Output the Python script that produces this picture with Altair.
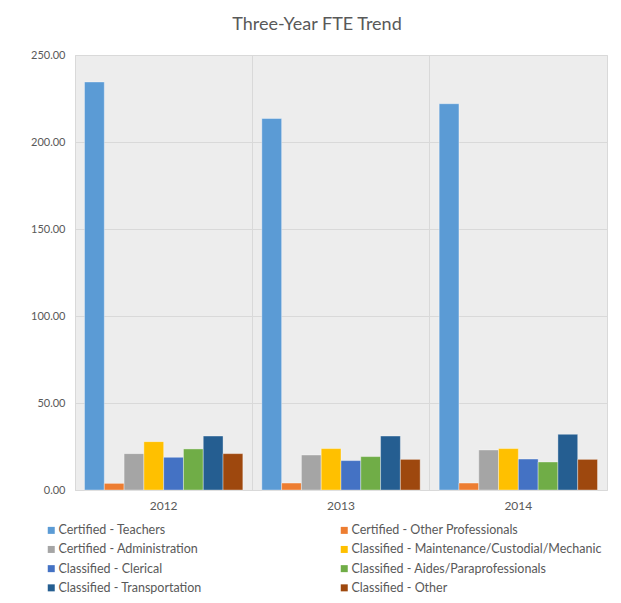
import altair as alt
import pandas as pd

years = ["2012", "2013", "2014"]
categories = [
    "Certified - Teachers",
    "Certified - Other Professionals",
    "Certified - Administration",
    "Classified - Maintenance/Custodial/Mechanic",
    "Classified - Clerical",
    "Classified - Aides/Paraprofessionals",
    "Classified - Transportation",
    "Classified - Other",
]
colors = ["#5B9BD5", "#ED7D31", "#A5A5A5", "#FFC000", "#4472C4", "#70AD47", "#255E91", "#9E480E"]

teachers = [234.5, 213.5, 222.0]
other_prof = [3.8, 4.0, 4.0]
administration = [20.9, 20.1, 23.0]
maintenance = [27.8, 23.8, 23.8]
clerical = [18.8, 16.9, 17.8]
aides = [23.6, 19.2, 16.1]
transportation = [31.0, 31.0, 32.0]
classified_other = [20.9, 17.6, 17.6]

series = [teachers, other_prof, administration, maintenance, clerical, aides,
          transportation, classified_other]

# legend fills column by column: left column first, then right column
legend_order = categories[0::2] + categories[1::2]

rows = []
for cat, vals in zip(categories, series):
    for yr, v in zip(years, vals):
        rows.append({"Year": yr, "Category": cat, "FTE": v})
df = pd.DataFrame(rows)

FONT = "Lato"
TXT = "#595959"
GRID = "#d9d9d9"

chart = alt.Chart(df).mark_bar(stroke="white", strokeWidth=0.6, strokeOpacity=0.6).encode(
    x=alt.X(
        "Year:N",
        sort=years,
        scale=alt.Scale(paddingInner=0, paddingOuter=0),
        axis=alt.Axis(title=None, labelAngle=0, grid=True, bandPosition=0,
                      ticks=False, domain=False, labelColor=TXT, labelFontSize=12,
                      labelFont=FONT, labelPadding=10, gridColor=GRID),
    ),
    xOffset=alt.XOffset("Category:N", sort=categories,
                        scale=alt.Scale(paddingInner=0, paddingOuter=0.48)),
    y=alt.Y(
        "FTE:Q",
        scale=alt.Scale(domain=[0, 250]),
        axis=alt.Axis(title=None, values=[0, 50, 100, 150, 200, 250], format=".2f",
                      ticks=False, domain=False, labelColor=TXT, labelFontSize=11,
                      labelFont=FONT, labelPadding=10, gridColor=GRID),
    ),
    color=alt.Color(
        "Category:N",
        sort=categories,
        scale=alt.Scale(domain=categories, range=colors),
        legend=alt.Legend(title=None, orient="none", legendX=-30, legendY=469,
                          columns=2, columnPadding=136, rowPadding=6.2,
                          values=legend_order,
                          symbolType="square", symbolSize=49, symbolStrokeWidth=0,
                          labelFont=FONT, labelFontSize=12.5, labelColor=TXT,
                          labelLimit=400, labelOffset=1),
    ),
).properties(
    width=532,
    height=435,
    title=alt.TitleParams("Three-Year FTE Trend", font=FONT, fontSize=18,
                          fontWeight="normal", color=TXT, offset=15, anchor="middle",
                          dx=-24),
    padding={"left": 67, "top": 47, "right": 6, "bottom": 110},
    autosize="none",
).configure_view(
    fill="#ededed", stroke=GRID
)

chart.save("out.html", embed_options={"renderer": "svg", "actions": False})
